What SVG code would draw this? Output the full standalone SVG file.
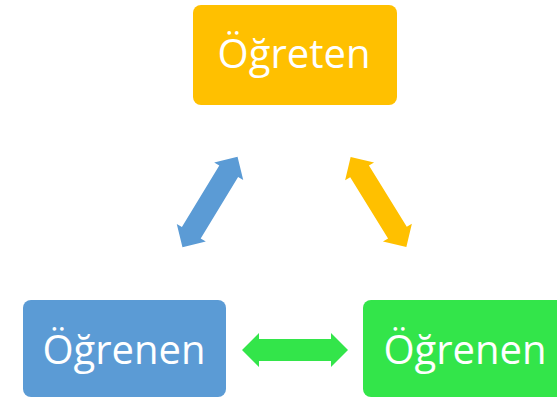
<svg xmlns="http://www.w3.org/2000/svg" width="557" height="398" viewBox="0 0 557 398">
  <style>
    .box-label { font-family: "Open Sans", "Noto Sans", "DejaVu Sans", sans-serif; font-size: 40px; fill: #ffffff; text-anchor: middle; }
    .orange { fill: #FFC000; }
    .blue { fill: #5B9BD5; }
    .green { fill: #33E54A; }
  </style>
  <defs>
    <!-- double-headed block arrow, centred on the origin, pointing along x -->
    <path id="dbl-arrow" d="M -53 0 L -36 -17 L -36 -11 L 36 -11 L 36 -17 L 53 0 L 36 17 L 36 11 L -36 11 L -36 17 Z"/>
  </defs>

  <g id="connectors">
    <use href="#dbl-arrow" class="blue" transform="translate(210 202) rotate(-58.7)"/>
    <use href="#dbl-arrow" class="orange" transform="translate(378.5 202) rotate(58.3)"/>
    <use href="#dbl-arrow" class="green" transform="translate(295 350)"/>
  </g>

  <g id="ogreten">
    <rect class="orange" x="193" y="5" width="204" height="100" rx="8"/>
    <text class="box-label" x="294" y="68">Öğreten</text>
  </g>

  <g id="ogrenen-left">
    <rect class="blue" x="23" y="300" width="203" height="97" rx="8"/>
    <text class="box-label" x="124" y="364">Öğrenen</text>
  </g>

  <g id="ogrenen-right">
    <rect class="green" x="363" y="300" width="204" height="97" rx="8"/>
    <text class="box-label" x="465" y="364">Öğrenen</text>
  </g>
</svg>
